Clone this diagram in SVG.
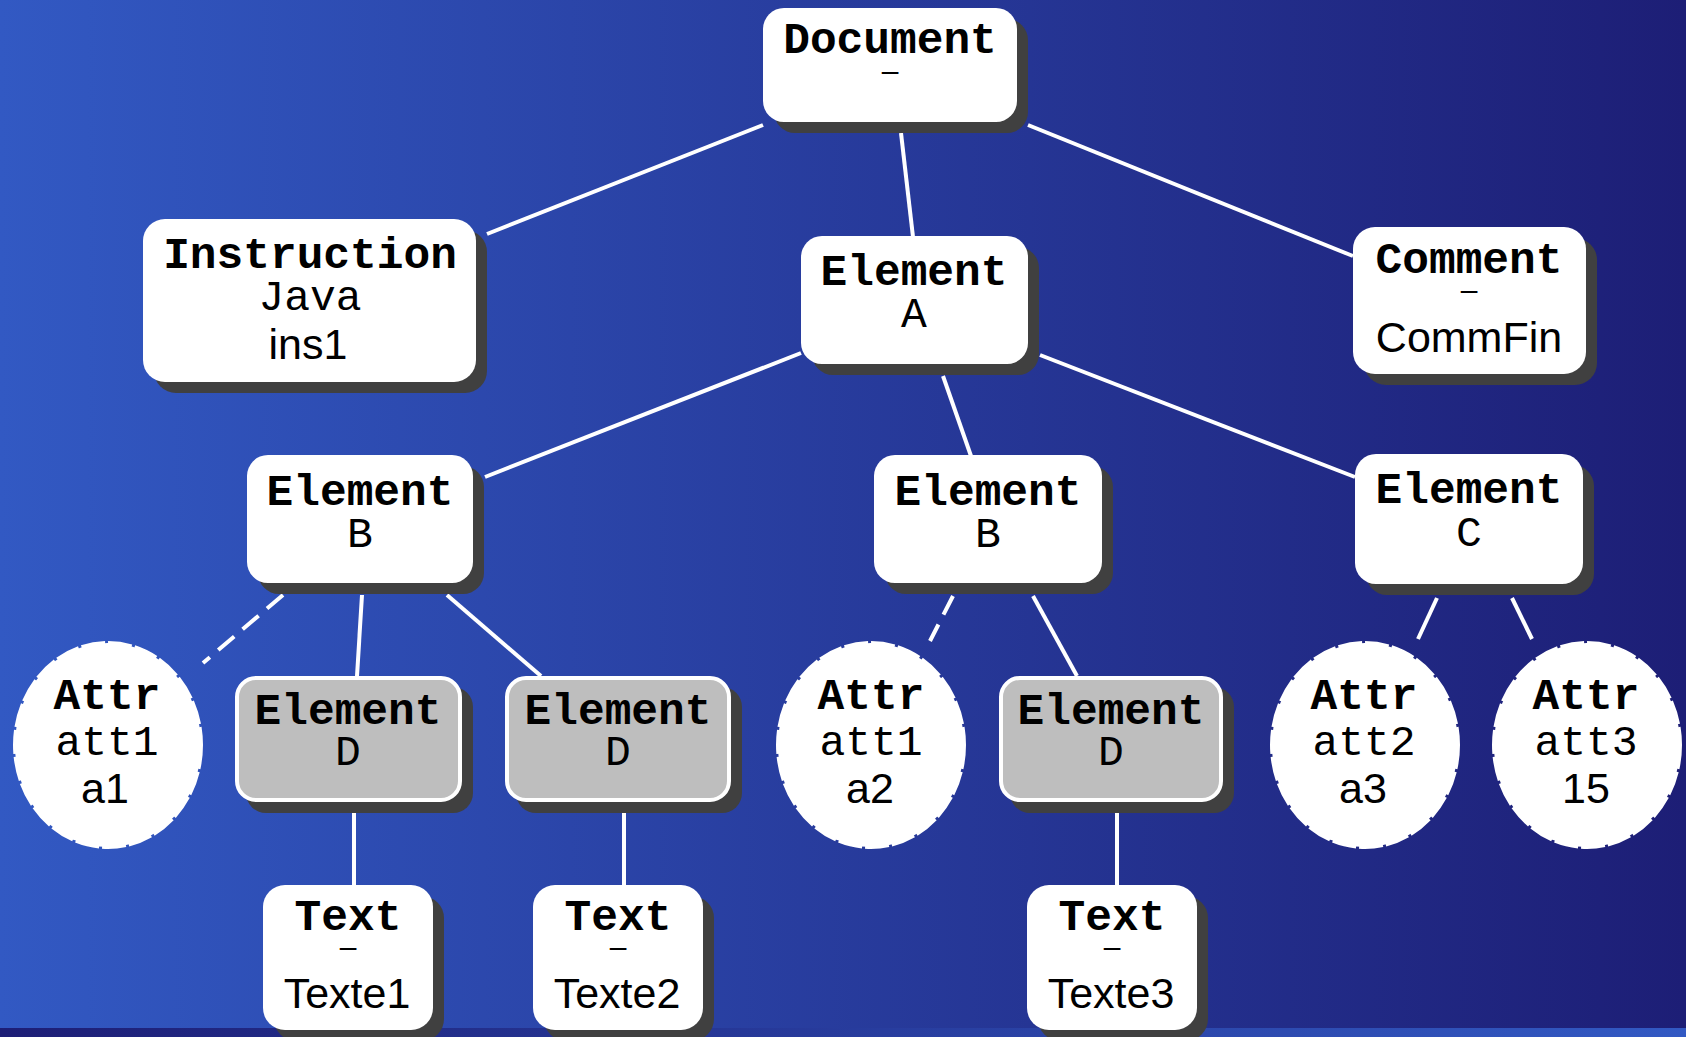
<svg xmlns="http://www.w3.org/2000/svg" width="1686" height="1037" viewBox="0 0 1686 1037">
  <defs>
    <linearGradient id="bg" x1="0" y1="0" x2="1" y2="0">
      <stop offset="0" stop-color="#3259c3"/>
      <stop offset="1" stop-color="#1d1e76"/>
    </linearGradient>
    <linearGradient id="bgStrip" x1="0" y1="0" x2="1" y2="0">
      <stop offset="0" stop-color="#1d1e76"/>
      <stop offset="1" stop-color="#3259c3"/>
    </linearGradient>
    <style>
      .shadow { fill: #404040; }
      .box { fill: #ffffff; }
      .gray { fill: #bebebe; stroke: #ffffff; stroke-width: 4; }
      .attr { fill: #ffffff; stroke: #ffffff; stroke-width: 4; stroke-dasharray: 24 3; }
      .edge { stroke: #ffffff; stroke-width: 4; fill: none; }
      .dashed { stroke-dasharray: 21 11; }
      .kind { font-family: "Liberation Mono", "Courier New", monospace; font-weight: bold; font-size: 44.5px; fill: #000; text-anchor: middle; }
      .name { font-family: "Liberation Mono", "Courier New", monospace; font-size: 43px; fill: #000; text-anchor: middle; }
      .value { font-family: "Liberation Sans", Arial, sans-serif; font-size: 43px; fill: #000; text-anchor: middle; }
      .none { font-family: "Liberation Sans", Arial, sans-serif; font-size: 30px; fill: #000; text-anchor: middle; }
    </style>
  </defs>

  <!-- background -->
  <rect x="0" y="0" width="1686" height="1028" fill="url(#bg)"/>
  <rect x="0" y="1028" width="1686" height="9" fill="url(#bgStrip)"/>

  <!-- connectors -->
  <g id="connectors">
    <line class="edge" x1="763" y1="125" x2="487" y2="234"/>
    <line class="edge" x1="901" y1="133" x2="913" y2="237"/>
    <line class="edge" x1="1028" y1="125" x2="1353" y2="256"/>
    <line class="edge" x1="801" y1="353" x2="485" y2="477"/>
    <line class="edge" x1="943" y1="376" x2="971" y2="456"/>
    <line class="edge" x1="1040" y1="355" x2="1355" y2="477"/>
    <line class="edge dashed" x1="283" y1="595" x2="203" y2="663"/>
    <line class="edge" x1="362" y1="595" x2="357" y2="676"/>
    <line class="edge" x1="447" y1="595" x2="541" y2="676"/>
    <line class="edge" x1="354" y1="813" x2="354" y2="886"/>
    <line class="edge" x1="624" y1="813" x2="624" y2="886"/>
    <line class="edge dashed" x1="953" y1="596" x2="930" y2="641"/>
    <line class="edge" x1="1033" y1="596" x2="1077" y2="676"/>
    <line class="edge" x1="1117" y1="813" x2="1117" y2="886"/>
    <line class="edge" x1="1437" y1="598" x2="1418" y2="639"/>
    <line class="edge" x1="1512" y1="598" x2="1532" y2="639"/>
  </g>

  <!-- Document -->
  <g id="document">
    <rect class="shadow" x="774" y="19" width="254" height="114" rx="21"/>
    <rect class="box" x="763" y="8" width="254" height="114" rx="21"/>
    <text class="kind" x="890" y="53">Document</text>
    <text class="none" x="890" y="81">–</text>
  </g>

  <!-- Instruction -->
  <g id="instruction">
    <rect class="shadow" x="154" y="230" width="333" height="163" rx="22"/>
    <rect class="box" x="143" y="219" width="333" height="163" rx="22"/>
    <text class="kind" x="310" y="268">Instruction</text>
    <text class="name" x="310" y="310">Java</text>
    <text class="value" x="308" y="359">ins1</text>
  </g>

  <!-- Element A -->
  <g id="element-a">
    <rect class="shadow" x="812" y="247" width="227" height="128" rx="21"/>
    <rect class="box" x="801" y="236" width="227" height="128" rx="21"/>
    <text class="kind" x="914" y="285">Element</text>
    <text class="name" x="914" y="327">A</text>
  </g>

  <!-- Comment -->
  <g id="comment">
    <rect class="shadow" x="1364" y="238" width="233" height="147" rx="22"/>
    <rect class="box" x="1353" y="227" width="233" height="147" rx="22"/>
    <text class="kind" x="1469" y="273">Comment</text>
    <text class="none" x="1469" y="300">–</text>
    <text class="value" x="1469" y="352">CommFin</text>
  </g>

  <!-- Element B (left) -->
  <g id="element-b1">
    <rect class="shadow" x="258" y="466" width="226" height="128" rx="21"/>
    <rect class="box" x="247" y="455" width="226" height="128" rx="21"/>
    <text class="kind" x="360" y="505">Element</text>
    <text class="name" x="360" y="547">B</text>
  </g>

  <!-- Element B (middle) -->
  <g id="element-b2">
    <rect class="shadow" x="885" y="466" width="228" height="128" rx="21"/>
    <rect class="box" x="874" y="455" width="228" height="128" rx="21"/>
    <text class="kind" x="988" y="505">Element</text>
    <text class="name" x="988" y="547">B</text>
  </g>

  <!-- Element C -->
  <g id="element-c">
    <rect class="shadow" x="1366" y="465" width="228" height="130" rx="21"/>
    <rect class="box" x="1355" y="454" width="228" height="130" rx="21"/>
    <text class="kind" x="1469" y="503">Element</text>
    <text class="name" x="1469" y="546">C</text>
  </g>

  <!-- Attr att1 = a1 -->
  <g id="attr-a1">
    <ellipse class="attr" cx="108" cy="745" rx="93" ry="102"/>
    <text class="kind" x="107" y="709">Attr</text>
    <text class="name" x="107" y="755">att1</text>
    <text class="value" x="105" y="803">a1</text>
  </g>

  <!-- Element D (1) -->
  <g id="element-d1">
    <rect class="shadow" x="246" y="687" width="227" height="126" rx="20"/>
    <rect class="gray" x="237" y="678" width="223" height="122" rx="19"/>
    <text class="kind" x="348" y="724">Element</text>
    <text class="name" x="348" y="765">D</text>
  </g>

  <!-- Element D (2) -->
  <g id="element-d2">
    <rect class="shadow" x="516" y="687" width="226" height="126" rx="20"/>
    <rect class="gray" x="507" y="678" width="222" height="122" rx="19"/>
    <text class="kind" x="618" y="724">Element</text>
    <text class="name" x="618" y="765">D</text>
  </g>

  <!-- Attr att1 = a2 -->
  <g id="attr-a2">
    <ellipse class="attr" cx="871" cy="745" rx="93" ry="102"/>
    <text class="kind" x="871" y="709">Attr</text>
    <text class="name" x="871" y="755">att1</text>
    <text class="value" x="870" y="803">a2</text>
  </g>

  <!-- Element D (3) -->
  <g id="element-d3">
    <rect class="shadow" x="1010" y="687" width="224" height="126" rx="20"/>
    <rect class="gray" x="1001" y="678" width="220" height="122" rx="19"/>
    <text class="kind" x="1111" y="724">Element</text>
    <text class="name" x="1111" y="765">D</text>
  </g>

  <!-- Attr att2 = a3 -->
  <g id="attr-a3">
    <ellipse class="attr" cx="1365" cy="745" rx="93" ry="102"/>
    <text class="kind" x="1364" y="709">Attr</text>
    <text class="name" x="1364" y="755">att2</text>
    <text class="value" x="1363" y="803">a3</text>
  </g>

  <!-- Attr att3 = 15 -->
  <g id="attr-15">
    <ellipse class="attr" cx="1587" cy="745" rx="93" ry="102"/>
    <text class="kind" x="1586" y="709">Attr</text>
    <text class="name" x="1586" y="755">att3</text>
    <text class="value" x="1586" y="803">15</text>
  </g>

  <!-- Text nodes -->
  <g id="text-1">
    <rect class="shadow" x="274" y="896" width="170" height="145" rx="22"/>
    <rect class="box" x="263" y="885" width="170" height="145" rx="22"/>
    <text class="kind" x="348" y="930">Text</text>
    <text class="none" x="348" y="957">–</text>
    <text class="value" x="347" y="1008">Texte1</text>
  </g>

  <g id="text-2">
    <rect class="shadow" x="544" y="896" width="170" height="145" rx="22"/>
    <rect class="box" x="533" y="885" width="170" height="145" rx="22"/>
    <text class="kind" x="618" y="930">Text</text>
    <text class="none" x="618" y="957">–</text>
    <text class="value" x="617" y="1008">Texte2</text>
  </g>

  <g id="text-3">
    <rect class="shadow" x="1038" y="896" width="170" height="145" rx="22"/>
    <rect class="box" x="1027" y="885" width="170" height="145" rx="22"/>
    <text class="kind" x="1112" y="930">Text</text>
    <text class="none" x="1112" y="957">–</text>
    <text class="value" x="1111" y="1008">Texte3</text>
  </g>
</svg>
